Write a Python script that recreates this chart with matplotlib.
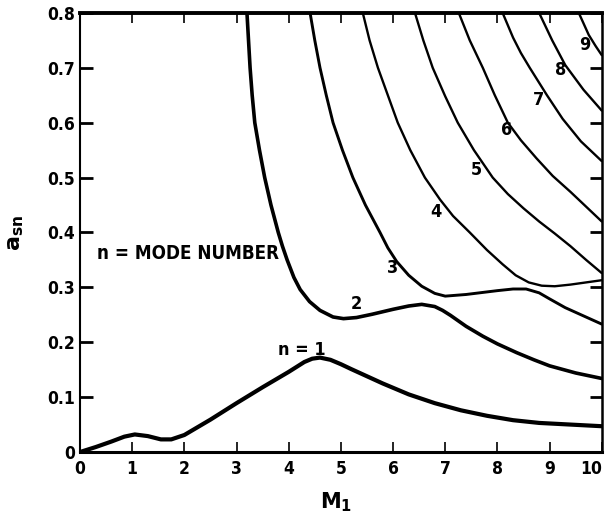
import numpy as np
from matplotlib import pyplot as plt

# mode curves a_sn vs M_1, n = 1..9
m1_n1 = [0, 0.3, 0.6, 0.85, 1.05, 1.3, 1.55, 1.75, 2.0, 2.5, 3.0, 3.5, 4.0, 4.15, 4.3, 4.45,
         4.6, 4.8, 5.0, 5.2, 5.5, 5.8, 6.3, 6.8, 7.3, 7.8, 8.3, 8.8, 9.4, 10]
a_n1 = [0, 0.009, 0.019, 0.028, 0.032, 0.029, 0.023, 0.023, 0.031, 0.059, 0.089, 0.118, 0.146,
        0.155, 0.164, 0.17, 0.172, 0.168, 0.16, 0.151, 0.138, 0.125, 0.105, 0.089, 0.076, 0.066,
        0.058, 0.053, 0.05, 0.047]

m1_n2 = [3.2, 3.23, 3.26, 3.3, 3.35, 3.44, 3.54, 3.66, 3.8, 3.88, 3.97, 4.1, 4.22, 4.4, 4.6,
         4.85, 5.05, 5.3, 5.6, 6.0, 6.3, 6.55, 6.8, 6.95, 7.1, 7.4, 7.72, 8.0, 8.37, 8.7, 9.0,
         9.5, 10]
a_n2 = [0.8, 0.75, 0.7, 0.65, 0.6, 0.55, 0.5, 0.45, 0.4, 0.375, 0.35, 0.318, 0.296, 0.274,
        0.258, 0.246, 0.243, 0.245, 0.251, 0.26, 0.266, 0.269, 0.265, 0.258, 0.249, 0.229,
        0.211, 0.197, 0.181, 0.168, 0.157, 0.144, 0.134]

m1_n3 = [4.41, 4.5, 4.6, 4.72, 4.85, 5.03, 5.23, 5.47, 5.75, 5.9, 6.07, 6.3, 6.55, 6.8, 7.0,
         7.4, 8.0, 8.3, 8.55, 8.8, 9.0, 9.3, 9.65, 10]
a_n3 = [0.8, 0.75, 0.7, 0.65, 0.6, 0.55, 0.5, 0.45, 0.4, 0.372, 0.347, 0.322, 0.302, 0.289,
        0.284, 0.287, 0.294, 0.297, 0.297, 0.29, 0.279, 0.263, 0.248, 0.233]

m1_n4 = [5.42, 5.55, 5.71, 5.9, 6.09, 6.33, 6.61, 6.9, 7.15, 7.47, 7.8, 8.1, 8.35, 8.6, 8.85,
         9.1, 9.4, 9.7, 10]
a_n4 = [0.8, 0.75, 0.7, 0.65, 0.6, 0.55, 0.5, 0.46, 0.43, 0.4, 0.368, 0.342, 0.322, 0.309,
        0.303, 0.302, 0.305, 0.309, 0.313]

m1_n5 = [6.42, 6.58, 6.76, 7.0, 7.24, 7.55, 7.91, 8.2, 8.5, 8.8, 9.1, 9.4, 9.7, 10]
a_n5 = [0.8, 0.75, 0.7, 0.648, 0.6, 0.55, 0.5, 0.47, 0.444, 0.42, 0.398, 0.375, 0.35, 0.326]

m1_n6 = [7.26, 7.47, 7.72, 7.95, 8.2, 8.45, 8.75, 9.06, 9.4, 9.7, 10]
a_n6 = [0.8, 0.75, 0.7, 0.65, 0.6, 0.568, 0.535, 0.503, 0.474, 0.447, 0.42]

m1_n7 = [8.1, 8.3, 8.45, 8.62, 8.95, 9.25, 9.6, 10]
a_n7 = [0.8, 0.755, 0.727, 0.7, 0.65, 0.607, 0.566, 0.53]

m1_n8 = [8.8, 8.9, 9.05, 9.3, 9.65, 10]
a_n8 = [0.8, 0.78, 0.75, 0.705, 0.66, 0.622]

m1_n9 = [9.56, 9.75, 9.88, 10]
a_n9 = [0.8, 0.76, 0.74, 0.723]

curves = [(m1_n1, a_n1), (m1_n2, a_n2), (m1_n3, a_n3), (m1_n4, a_n4), (m1_n5, a_n5),
          (m1_n6, a_n6), (m1_n7, a_n7), (m1_n8, a_n8), (m1_n9, a_n9)]
widths = [3.0, 2.6, 2.1, 1.7, 1.7, 1.7, 1.7, 1.7, 1.7]

# mode number labels along the curves
label_text = ['n = 1', '2', '3', '4', '5', '6', '7', '8', '9']
label_x = [4.25, 5.29, 5.98, 6.82, 7.59, 8.18, 8.79, 9.21, 9.67]
label_y = [0.186, 0.269, 0.336, 0.438, 0.514, 0.586, 0.642, 0.696, 0.741]

xticks = list(range(0, 11))
yticks = [0, 0.1, 0.2, 0.3, 0.4, 0.5, 0.6, 0.7, 0.8]
ytick_labels = ['0', '0.1', '0.2', '0.3', '0.4', '0.5', '0.6', '0.7', '0.8']

font = dict(family='DejaVu Sans', weight='bold', stretch='condensed')

fig = plt.figure(figsize=(6.06, 5.16), dpi=100)
ax = fig.add_axes([0.132, 0.124, 0.861, 0.851])

for (x, y), lw in zip(curves, widths):
    ax.plot(x, y, color='black', lw=lw, solid_capstyle='round', solid_joinstyle='round')

for t, x, y in zip(label_text, label_x, label_y):
    ax.text(x, y, t, ha='center', va='center', fontsize=13, **font)

ax.text(0.33, 0.362, 'n = MODE NUMBER', ha='left', va='center', fontsize=13.5, **font)

ax.set_xlim(0, 10)
ax.set_ylim(0, 0.8)
ax.set_xticks(xticks)
ax.set_xticklabels([str(v) for v in xticks], fontsize=12.5, **font)
ax.set_yticks(yticks)
ax.set_yticklabels(ytick_labels, fontsize=12.5, **font)
# last label sits against the right edge
ax.get_xticklabels()[-1].set_ha('right')

ax.tick_params(direction='in', top=True, right=True)
ax.tick_params(axis='y', length=9, width=2.0, pad=3.5)
ax.tick_params(axis='x', length=7, width=1.2, pad=5.5)

ax.spines['top'].set_linewidth(2.8)
ax.spines['bottom'].set_linewidth(2.2)
ax.spines['left'].set_linewidth(1.5)
ax.spines['right'].set_linewidth(1.8)

plt.rcParams['mathtext.fontset'] = 'dejavusans'
ax.set_ylabel(r'$\mathbf{a_{sn}}$', fontsize=16, rotation=90)
ax.yaxis.set_label_coords(-0.104, 0.5)
ax.set_xlabel(r'$\mathbf{M_1}$', fontsize=15)
ax.xaxis.set_label_coords(0.49, -0.088)

plt.savefig('out.png', dpi=100)
